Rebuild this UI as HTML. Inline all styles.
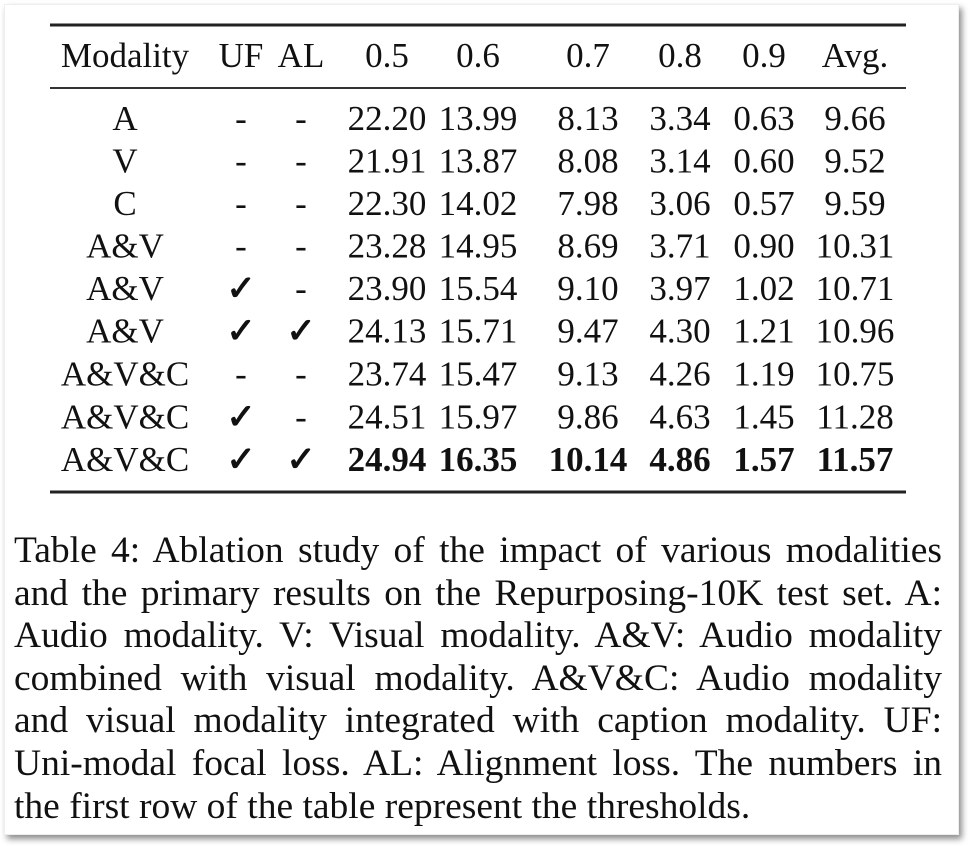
<!DOCTYPE html>
<html><head><meta charset="utf-8"><style>
html,body{margin:0;padding:0;background:#fff;}
body{width:971px;height:846px;position:relative;overflow:hidden;}
.box{position:absolute;left:4px;top:4px;width:953px;height:829px;background:#fff;box-shadow:3px 4px 6px rgba(0,0,0,0.45);border:1px solid #eee;}
svg{position:absolute;left:0;top:0;}
.cap{position:absolute;left:14px;width:928px;top:530px;font-family:"Liberation Serif",serif;font-size:37.5px;color:#111;}
.cap div{height:42.6px;line-height:42.6px;text-align:justify;text-align-last:justify;white-space:nowrap;}
.cap div.l{text-align-last:left;}
</style></head><body>
<div class="box"></div>
<svg width="971" height="846" font-family="Liberation Serif, serif" font-size="35" fill="#111" text-anchor="middle">
<line x1="50" y1="25" x2="906" y2="25" stroke="#222" stroke-width="3"/>
<line x1="50" y1="88" x2="906" y2="88" stroke="#333" stroke-width="2"/>
<line x1="50" y1="492" x2="906" y2="492" stroke="#222" stroke-width="3"/>
<g>
<text x="125" y="67">Modality</text><text x="241" y="67">UF</text><text x="301" y="67">AL</text>
<text x="387" y="67">0.5</text><text x="478" y="67">0.6</text><text x="588" y="67">0.7</text>
<text x="680" y="67">0.8</text><text x="764" y="67">0.9</text><text x="855" y="67">Avg.</text>
</g>
<g>
<text x="125" y="130">A</text><text x="241" y="130">-</text><text x="301" y="130">-</text><text x="387" y="130">22.20</text><text x="478" y="130">13.99</text><text x="588" y="130">8.13</text><text x="680" y="130">3.34</text><text x="764" y="130">0.63</text><text x="855" y="130">9.66</text>
<text x="125" y="172.5">V</text><text x="241" y="172.5">-</text><text x="301" y="172.5">-</text><text x="387" y="172.5">21.91</text><text x="478" y="172.5">13.87</text><text x="588" y="172.5">8.08</text><text x="680" y="172.5">3.14</text><text x="764" y="172.5">0.60</text><text x="855" y="172.5">9.52</text>
<text x="125" y="215">C</text><text x="241" y="215">-</text><text x="301" y="215">-</text><text x="387" y="215">22.30</text><text x="478" y="215">14.02</text><text x="588" y="215">7.98</text><text x="680" y="215">3.06</text><text x="764" y="215">0.57</text><text x="855" y="215">9.59</text>
<text x="125" y="257.5">A&amp;V</text><text x="241" y="257.5">-</text><text x="301" y="257.5">-</text><text x="387" y="257.5">23.28</text><text x="478" y="257.5">14.95</text><text x="588" y="257.5">8.69</text><text x="680" y="257.5">3.71</text><text x="764" y="257.5">0.90</text><text x="855" y="257.5">10.31</text>
<text x="125" y="300">A&amp;V</text><text x="241" y="300" font-weight="bold">✓</text><text x="301" y="300">-</text><text x="387" y="300">23.90</text><text x="478" y="300">15.54</text><text x="588" y="300">9.10</text><text x="680" y="300">3.97</text><text x="764" y="300">1.02</text><text x="855" y="300">10.71</text>
<text x="125" y="342.5">A&amp;V</text><text x="241" y="342.5" font-weight="bold">✓</text><text x="301" y="342.5" font-weight="bold">✓</text><text x="387" y="342.5">24.13</text><text x="478" y="342.5">15.71</text><text x="588" y="342.5">9.47</text><text x="680" y="342.5">4.30</text><text x="764" y="342.5">1.21</text><text x="855" y="342.5">10.96</text>
<text x="125" y="385.5">A&amp;V&amp;C</text><text x="241" y="385.5">-</text><text x="301" y="385.5">-</text><text x="387" y="385.5">23.74</text><text x="478" y="385.5">15.47</text><text x="588" y="385.5">9.13</text><text x="680" y="385.5">4.26</text><text x="764" y="385.5">1.19</text><text x="855" y="385.5">10.75</text>
<text x="125" y="428.5">A&amp;V&amp;C</text><text x="241" y="428.5" font-weight="bold">✓</text><text x="301" y="428.5">-</text><text x="387" y="428.5">24.51</text><text x="478" y="428.5">15.97</text><text x="588" y="428.5">9.86</text><text x="680" y="428.5">4.63</text><text x="764" y="428.5">1.45</text><text x="855" y="428.5">11.28</text>
<text x="125" y="471">A&amp;V&amp;C</text><text x="241" y="471" font-weight="bold">✓</text><text x="301" y="471" font-weight="bold">✓</text>
<g font-weight="bold"><text x="387" y="471">24.94</text><text x="478" y="471">16.35</text><text x="588" y="471">10.14</text><text x="680" y="471">4.86</text><text x="764" y="471">1.57</text><text x="855" y="471">11.57</text></g>
</g>
</svg>
<div class="cap">
<div>Table 4: Ablation study of the impact of various modalities</div>
<div>and the primary results on the Repurposing-10K test set. A:</div>
<div>Audio modality. V: Visual modality. A&amp;V: Audio modality</div>
<div>combined with visual modality. A&amp;V&amp;C: Audio modality</div>
<div>and visual modality integrated with caption modality. UF:</div>
<div>Uni-modal focal loss. AL: Alignment loss. The numbers in</div>
<div class="l">the first row of the table represent the thresholds.</div>
</div>
</body></html>
